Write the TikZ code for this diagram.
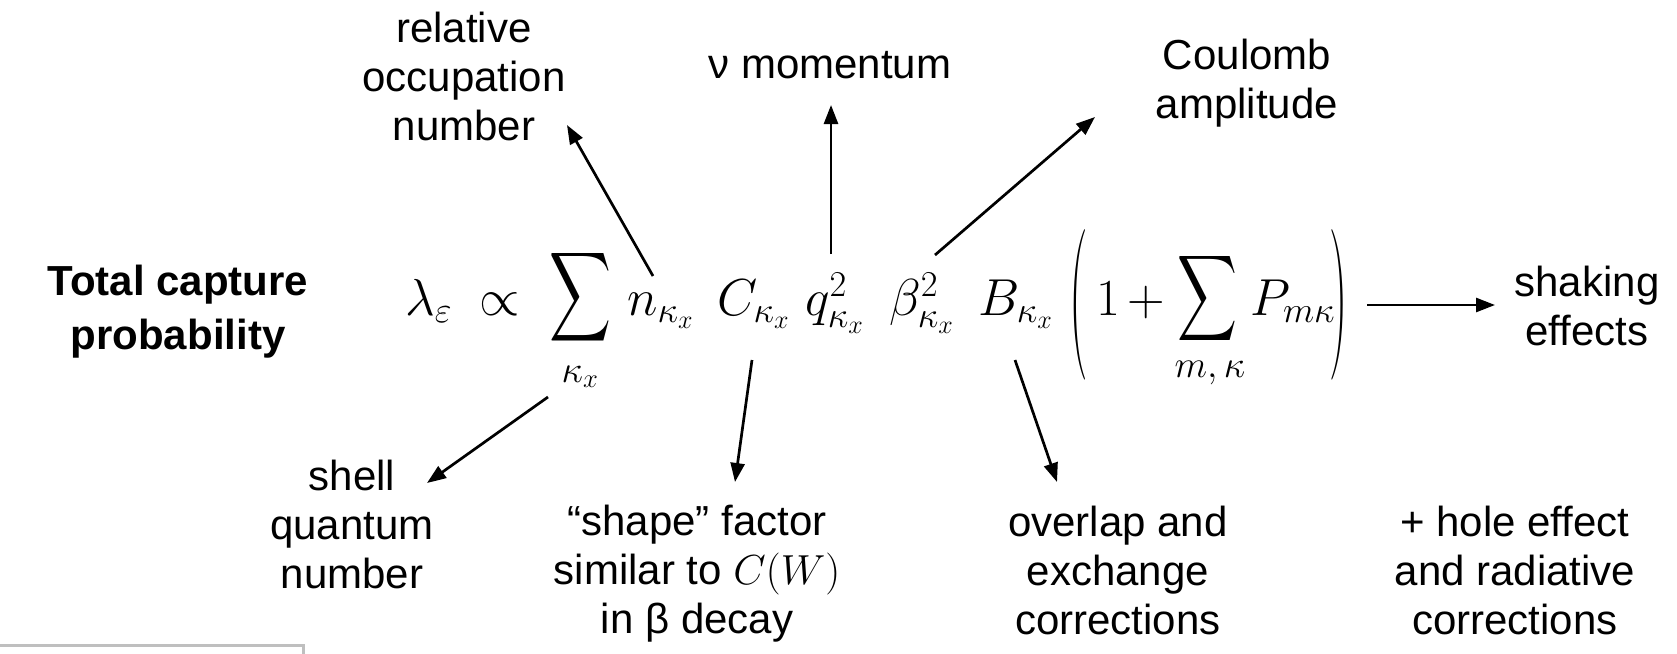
\RequirePackage{fix-cm}
\documentclass[tikz,border=0pt]{standalone}
\usepackage{amsmath}
\usepackage{graphicx}
\usepackage{fontspec}
\newfontfamily\arial{Liberation Sans}
\usetikzlibrary{arrows.meta}
\definecolor{boxgray}{HTML}{BFBFBF}
\tikzset{
  lbl/.style={font=\arial\fontsize{42}{49}\selectfont, align=center, anchor=base, inner sep=0pt},
  mth/.style={font=\fontsize{52}{60}\selectfont, anchor=base west, inner sep=0pt},
  mthsub/.style={font=\fontsize{38}{44}\selectfont, anchor=base, inner sep=0pt},
  arr/.style={line width=2.7pt, -{Triangle[length=19pt,width=14pt]}}
}
\begin{document}
\begin{tikzpicture}[x=1pt,y=-1pt]
\useasboundingbox (0,0) rectangle (1677,653);
% title
\node[lbl, font=\arial\bfseries\fontsize{42}{54}\selectfont] (title) at (178,349) {Total capture\\probability};
% formula pieces
\node[mth] (lam) at (405,315) {$\lambda_{\varepsilon}$};
\node[mth, anchor=base] (prop) at (500,315) {$\propto$};
\node[inner sep=0pt, anchor=north] (sumA) at (580,247) {\resizebox*{62pt}{100pt}{$\displaystyle\sum$}};
\node[mthsub] (kx) at (580,382) {$\kappa_x$};
\node[mth] (n) at (627,315) {$n_{\kappa_x}$};
\node[mth] (C) at (717,315) {$C_{\kappa_x}$};
\node[mth] (q) at (805,315) {$q^2_{\kappa_x}$};
\node[mth] (beta) at (889,315) {$\beta^2_{\kappa_x}$};
\node[mth] (B) at (978,315) {$B_{\kappa_x}$};
\node[inner sep=0pt, font=\fontsize{52}{60}\selectfont] (lp) at (1079,305) {\scalebox{1}[2.9]{$($}};
\node[mth] (one) at (1096,315) {$1$};
\node[mth, anchor=base] (plus) at (1146,315) {$+$};
\node[inner sep=0pt, anchor=north] (sumB) at (1207,250) {\resizebox*{60pt}{96pt}{$\displaystyle\sum$}};
\node[mthsub] (mk) at (1210,377) {$m,\kappa$};
\node[mth] (P) at (1250,315) {$P_{m\kappa}$};
\node[inner sep=0pt, font=\fontsize{52}{60}\selectfont] (rp) at (1339,305) {\scalebox{1}[2.9]{$)$}};
% labels (base = baseline of last line)
\node[lbl] (occ) at (464,140) {relative\\occupation\\number};
\node[lbl] (mom) at (830,78) {ν momentum};
\node[lbl] (coul) at (1247,118) {Coulomb\\amplitude};
\node[lbl] (shak) at (1587,345) {shaking\\effects};
\node[lbl] (shell) at (352,588) {shell\\quantum\\number};
\node[lbl] (shape) at (697,633) {“shape” factor\\similar to $C(W)$\\in β decay};
\node[lbl] (ovl) at (1118,634) {overlap and\\exchange\\corrections};
\node[lbl] (hole) at (1515,634) {+ hole effect\\and radiative\\corrections};
% connector end points
\coordinate (nS) at (653,276);  \coordinate (occT) at (567,125);
\coordinate (qS) at (831,254);  \coordinate (momT) at (831,105);
\coordinate (bS) at (935,255);  \coordinate (coulT) at (1095,117);
\coordinate (kS) at (548,397);  \coordinate (shellT) at (427,483);
\coordinate (cS) at (752,360);  \coordinate (shapeT) at (735,482);
\coordinate (BS) at (1015,360); \coordinate (ovlT) at (1057,482);
\coordinate (rS) at (1367,305); \coordinate (shakT) at (1495,305);
\draw[arr] (nS) -- (occT);
\draw[arr] (qS) -- (momT);
\draw[arr] (bS) -- (coulT);
\draw[arr] (kS) -- (shellT);
\draw[arr] (cS) -- (shapeT);
\draw[arr] (BS) -- (ovlT);
\draw[arr] (rS) -- (shakT);
% gray box corner
\draw[boxgray, line width=3pt] (-5,645) -- (303,645) -- (303,660);
\end{tikzpicture}
\end{document}
